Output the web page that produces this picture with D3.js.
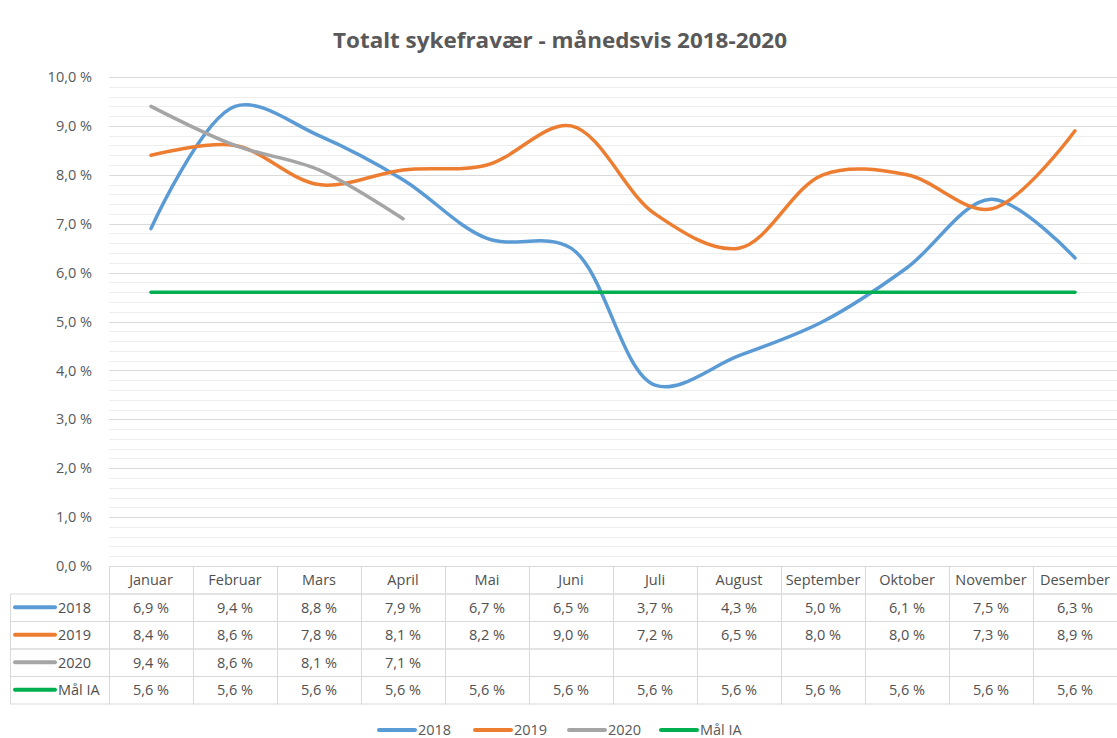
<!DOCTYPE html>
<html><head><meta charset="utf-8">
<script src="https://cdn.jsdelivr.net/npm/d3@7"></script>
<style>body{margin:0;background:#fff;} svg{display:block;font-family:"Open Sans","Noto Sans",sans-serif;}</style>
</head><body>
<svg id="c" width="1117" height="738"></svg>
<script>
const months = ["Januar","Februar","Mars","April","Mai","Juni","Juli","August","September","Oktober","November","Desember"];
const seriesNames = ["2018","2019","2020","Mål IA"];
const v2018 = [6.9,9.4,8.8,7.9,6.7,6.5,3.7,4.3,5.0,6.1,7.5,6.3];
const v2019 = [8.4,8.6,7.8,8.1,8.2,9.0,7.2,6.5,8.0,8.0,7.3,8.9];
const v2020 = [9.4,8.6,8.1,7.1];
const vMal = [5.6,5.6,5.6,5.6,5.6,5.6,5.6,5.6,5.6,5.6,5.6,5.6];
const yTicks = [0,1,2,3,4,5,6,7,8,9,10];
const title = "Totalt sykefravær - månedsvis 2018-2020";
const colors = ["#5B9BD5","#ED7D31","#A5A5A5","#00B050"];
const allSeries = [v2018,v2019,v2020,vMal];

(function(){
const svg = d3.select("#c");
const pL = 109, pR = 1117, pT = 77, pB = 566;
const x = d3.scaleBand().domain(months).range([pL,pR]).padding(0);
const y = d3.scaleLinear().domain([0,10]).range([pB,pT]);
const fmt = v => v.toFixed(1).replace(".",",") + " %";
const fs = "14.5px", txtC = "#505050";

// minor gridlines
const minor = d3.range(0,10.01,0.2).map(v=>+v.toFixed(1));
svg.append("g").selectAll("line").data(minor.filter(v=>Math.abs(v-Math.round(v))>0.01)).join("line")
  .attr("x1",pL).attr("x2",pR).attr("y1",d=>Math.round(y(d))+0.5).attr("y2",d=>Math.round(y(d))+0.5)
  .attr("stroke","#eeeeee").attr("stroke-width",1);
svg.append("g").selectAll("line").data(yTicks).join("line")
  .attr("x1",pL).attr("x2",pR).attr("y1",d=>Math.round(y(d))+0.5).attr("y2",d=>Math.round(y(d))+0.5)
  .attr("stroke","#d9d9d9").attr("stroke-width",1);

// y axis labels
const yAxis = d3.axisLeft(y).tickValues(yTicks).tickFormat(fmt).tickSize(0).tickPadding(17);
const ga = svg.append("g").attr("transform",`translate(${pL},0)`).call(yAxis);
ga.select(".domain").remove();
ga.selectAll("text").attr("fill","#595959").style("font-size",fs).style("font-family","'Open Sans','Noto Sans',sans-serif");

// lines
const line = d3.line().x((d,i)=>x(months[i])+x.bandwidth()/2).y(d=>y(d)).curve(d3.curveCatmullRom.alpha(0.5));
allSeries.forEach((s,k)=>{
  svg.append("path").datum(s).attr("d",line).attr("fill","none")
    .attr("stroke",colors[k]).attr("stroke-width",3.5).attr("stroke-linecap","round");
});

// title
svg.append("text").attr("x",560).attr("y",48).attr("text-anchor","middle")
  .attr("fill","#595959").style("font-size","21px").style("font-weight","bold")
  .attr("textLength",454).attr("lengthAdjust","spacingAndGlyphs").text(title);

// data table
const rowH = 27.5, headTop = pB, tableLeft = 10;
const tg = svg.append("g");
const gridC = "#d9d9d9";
months.forEach(m=>{
  tg.append("rect").attr("x",x(m)+0.5).attr("y",headTop+0.5).attr("width",x.bandwidth()).attr("height",rowH)
    .attr("fill","none").attr("stroke",gridC);
  tg.append("text").attr("x",x(m)+x.bandwidth()/2).attr("y",headTop+rowH/2+5).attr("text-anchor","middle")
    .attr("fill",txtC).style("font-size",fs).text(m);
});
seriesNames.forEach((name,r)=>{
  const ry = headTop + rowH*(r+1);
  tg.append("rect").attr("x",tableLeft+0.5).attr("y",ry+0.5).attr("width",pL-tableLeft).attr("height",rowH)
    .attr("fill","none").attr("stroke",gridC);
  tg.append("line").attr("x1",tableLeft+5).attr("x2",tableLeft+45).attr("y1",ry+rowH/2).attr("y2",ry+rowH/2)
    .attr("stroke",colors[r]).attr("stroke-width",4).attr("stroke-linecap","round");
  tg.append("text").attr("x",tableLeft+48).attr("y",ry+rowH/2+5.5).attr("fill",txtC).style("font-size",fs).text(name);
  months.forEach((m,i)=>{
    tg.append("rect").attr("x",x(m)+0.5).attr("y",ry+0.5).attr("width",x.bandwidth()).attr("height",rowH)
      .attr("fill","none").attr("stroke",gridC);
    const v = allSeries[r][i];
    if(v!==undefined){
      tg.append("text").attr("x",x(m)+x.bandwidth()/2).attr("y",ry+rowH/2+5.5).attr("text-anchor","middle")
        .attr("fill",txtC).style("font-size",fs).text(fmt(v));
    }
  });
});

// legend
const legX = [379,475,569,661];
const lg = svg.append("g");
seriesNames.forEach((n,k)=>{
  lg.append("line").attr("x1",legX[k]).attr("x2",legX[k]+36).attr("y1",730).attr("y2",730)
    .attr("stroke",colors[k]).attr("stroke-width",4).attr("stroke-linecap","round");
  lg.append("text").attr("x",legX[k]+39).attr("y",735).attr("fill","#595959").style("font-size",fs).text(n);
});
})();
</script>
</body></html>
